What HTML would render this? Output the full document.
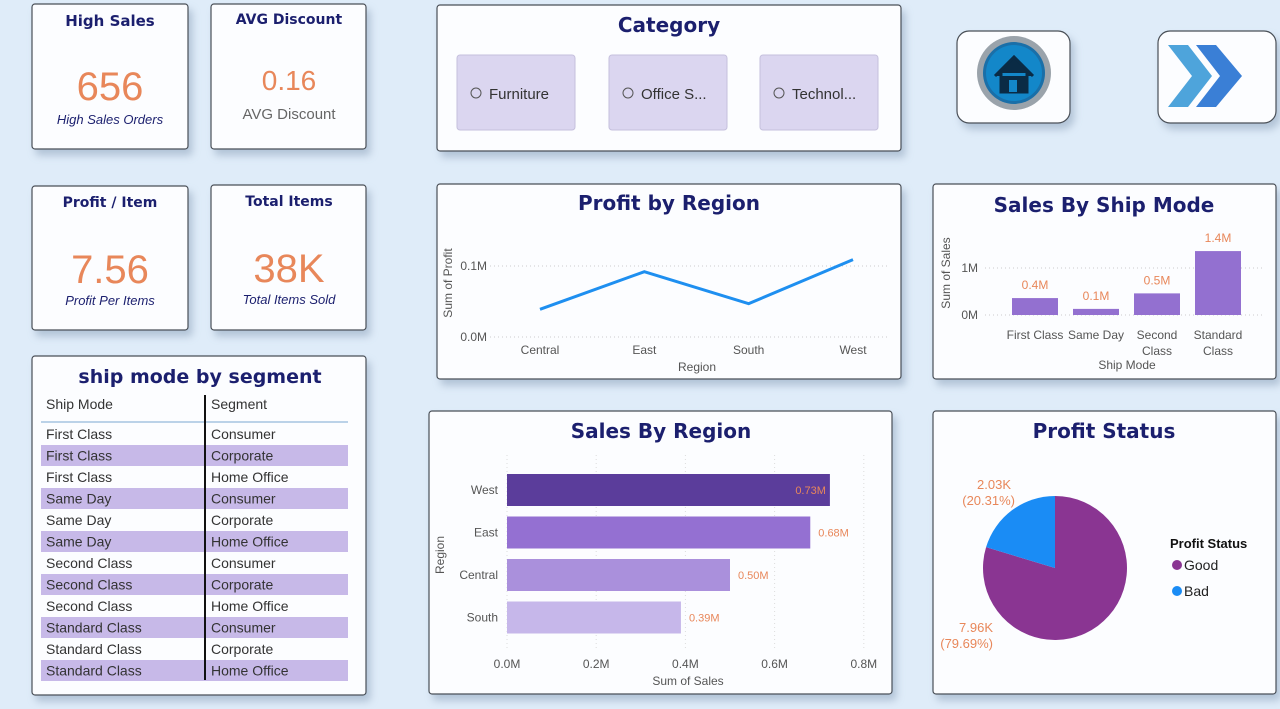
<!DOCTYPE html>
<html><head><meta charset="utf-8">
<style>
body{margin:0;width:1280px;height:709px;background:#dfecf9;overflow:hidden;font-family:"Liberation Sans",sans-serif}
svg{display:block}
.t{font-family:"DejaVu Sans","Liberation Sans",sans-serif;font-weight:bold;fill:#1b1f6e}
.lab{font-family:"Liberation Sans",sans-serif;fill:#555;font-size:12px}
</style></head><body>
<svg id="s" width="1280" height="709" xmlns="http://www.w3.org/2000/svg">
<defs><filter id="sh" x="-10%" y="-10%" width="130%" height="130%"><feDropShadow dx="4" dy="6" stdDeviation="4" flood-color="#7d93ad" flood-opacity="0.45"/></filter></defs>
<g id="cards"></g>
<text class="t" x="110" y="26" font-size="15" text-anchor="middle">High Sales</text>
<text x="110" y="100" font-size="40" fill="#e8875a" text-anchor="middle">656</text>
<text x="110" y="124" font-size="13" font-style="italic" fill="#1b1f6e" text-anchor="middle">High Sales Orders</text>
<text class="t" x="289" y="24" font-size="14" text-anchor="middle">AVG Discount</text>
<text x="289" y="90" font-size="28" fill="#e8875a" text-anchor="middle">0.16</text>
<text x="289" y="119" font-size="15" fill="#666" text-anchor="middle">AVG Discount</text>
<text class="t" x="110" y="207" font-size="14" text-anchor="middle">Profit / Item</text>
<text x="110" y="283" font-size="40" fill="#e8875a" text-anchor="middle">7.56</text>
<text x="110" y="305" font-size="13" font-style="italic" fill="#1b1f6e" text-anchor="middle">Profit Per Items</text>
<text class="t" x="289" y="206" font-size="14" text-anchor="middle">Total Items</text>
<text x="289" y="282" font-size="40" fill="#e8875a" text-anchor="middle">38K</text>
<text x="289" y="304" font-size="13" font-style="italic" fill="#1b1f6e" text-anchor="middle">Total Items Sold</text>
<text class="t" x="669" y="32" font-size="20" fill="#14477a" text-anchor="middle">Category</text>
<g><rect x="457" y="55" width="118" height="75" rx="3" fill="#dbd6f0" stroke="#c5c0dd"/><circle cx="476" cy="93" r="5" fill="none" stroke="#555"/><text x="489" y="99" font-size="15" fill="#333">Furniture</text></g>
<g><rect x="609" y="55" width="118" height="75" rx="3" fill="#dbd6f0" stroke="#c5c0dd"/><circle cx="628" cy="93" r="5" fill="none" stroke="#555"/><text x="641" y="99" font-size="15" fill="#333">Office S...</text></g>
<g><rect x="760" y="55" width="118" height="75" rx="3" fill="#dbd6f0" stroke="#c5c0dd"/><circle cx="779" cy="93" r="5" fill="none" stroke="#555"/><text x="792" y="99" font-size="15" fill="#333">Technol...</text></g>
<g>
<circle cx="1014" cy="73" r="37" fill="#9aa3ab"/><circle cx="1014" cy="73" r="31" fill="#1a6fa8"/><circle cx="1014" cy="73" r="28" fill="#1387c9"/>
<path d="M995 76 L1014 57 L1033 76 M1001 73 L1001 92 L1027 92 L1027 73" fill="#0a2b45" stroke="#0a2b45" stroke-width="3"/>
<rect x="1009" y="80" width="8" height="12" fill="#1387c9"/></g>
<g>
<path d="M1168 45 L1188 45 L1212 76 L1188 107 L1168 107 L1192 76 Z" fill="#4ea4db"/>
<path d="M1196 45 L1216 45 L1242 76 L1216 107 L1196 107 L1220 76 Z" fill="#3a7fd6"/></g>
<text class="t" x="669" y="210" font-size="20" fill="#14477a" text-anchor="middle">Profit by Region</text>
<text class="t" x="1104" y="212" font-size="20" text-anchor="middle">Sales By Ship Mode</text>
<text class="t" x="200" y="383" font-size="19" text-anchor="middle">ship mode by segment</text>
<text class="t" x="661" y="438" font-size="20" text-anchor="middle">Sales By Region</text>
<text class="t" x="1104" y="438" font-size="20" text-anchor="middle">Profit Status</text>
<g id="charts"></g>
</svg>
<script>
const NS='http://www.w3.org/2000/svg';
function mk(p,tag,a,txt){const e=document.createElementNS(NS,tag);for(const k in a)e.setAttribute(k,a[k]);if(txt!==undefined)e.textContent=txt;p.appendChild(e);return e;}
const cardsG=document.getElementById('cards'), C=document.getElementById('charts');
const cardNames=['high-sales-card','avg-discount-card','profit-item-card','total-items-card','category-slicer','home-button','next-button','profit-region-card','ship-mode-card','segment-table','sales-region-card','profit-status-card'];
const cardBoxes=[[32,4,156,145],[211,4,155,145],[32,186,156,144],[211,185,155,145],[437,5,464,146],[957,31,113,92],[1158,31,118,92],[437,184,464,195],[933,184,343,195],[32,356,334,339],[429,411,463,283],[933,411,343,283]];
cardBoxes.forEach((b,i)=>{const r=mk(cardsG,'rect',{x:b[0],y:b[1],width:b[2],height:b[3],rx:i==5||i==6?12:3,fill:'#fcfdff',stroke:'#4a4f57','stroke-width':1.2,filter:'url(#sh)'});

});

const regions=['Central','East','South','West'];
const profitVals=[0.039,0.092,0.047,0.109];
const pTicks=[0,0.1];
{const x0=540,dx=(853-540)/3,y=v=>337-v*710;
pTicks.forEach(t=>{mk(C,'line',{x1:490,x2:890,y1:y(t),y2:y(t),stroke:'#ccc','stroke-dasharray':'1 3'});mk(C,'text',{x:487,y:y(t)+4,class:'lab','text-anchor':'end'},t.toFixed(1)+'M');});
regions.forEach((r,i)=>mk(C,'text',{x:x0+i*dx,y:354,class:'lab','text-anchor':'middle'},r));
const pl=mk(C,'polyline',{points:profitVals.map((v,i)=>(x0+i*dx)+','+y(v)).join(' '),fill:'none',stroke:'#1e8ff0','stroke-width':3});


mk(C,'text',{x:697,y:371,class:'lab','font-size':10,'text-anchor':'middle'},'Region');
mk(C,'text',{x:452,y:283,class:'lab','font-size':10,'text-anchor':'middle',transform:'rotate(-90 452 283)'},'Sum of Profit');}

const modes=[['First Class'],['Same Day'],['Second','Class'],['Standard','Class']];
const modeVals=[0.36,0.13,0.46,1.36];
const modeLabels=['0.4M','0.1M','0.5M','1.4M'];
const mTicks=[0,1];
{const y=v=>315-v*47,x=i=>1035+i*61;
mTicks.forEach(t=>{mk(C,'line',{x1:985,x2:1262,y1:y(t),y2:y(t),stroke:'#ccc','stroke-dasharray':'1 3'});mk(C,'text',{x:978,y:y(t)+4,class:'lab','text-anchor':'end'},t+'M');});
modeVals.forEach((v,i)=>{const b=mk(C,'rect',{x:x(i)-23,y:y(v),width:46,height:v*47,fill:'#9370d0'});


mk(C,'text',{x:x(i),y:y(v)-9,'font-size':12,fill:'#e8875a','text-anchor':'middle'},modeLabels[i]);
modes[i].forEach((l,j)=>mk(C,'text',{x:x(i),y:339+j*16,class:'lab','text-anchor':'middle'},l));});
mk(C,'text',{x:1127,y:369,class:'lab','font-size':10,'text-anchor':'middle'},'Ship Mode');
mk(C,'text',{x:950,y:273,class:'lab','font-size':10,'text-anchor':'middle',transform:'rotate(-90 950 273)'},'Sum of Sales');}

const tblMode=['First Class','First Class','First Class','Same Day','Same Day','Same Day','Second Class','Second Class','Second Class','Standard Class','Standard Class','Standard Class'];
const tblSeg=['Consumer','Corporate','Home Office','Consumer','Corporate','Home Office','Consumer','Corporate','Home Office','Consumer','Corporate','Home Office'];
{mk(C,'text',{x:46,y:409,'font-size':14,fill:'#333'},'Ship Mode');mk(C,'text',{x:211,y:409,'font-size':14,fill:'#333'},'Segment');
mk(C,'line',{x1:41,x2:348,y1:422,y2:422,stroke:'#7aa7d1'});
tblMode.forEach((m,i)=>{const cy=434+i*21.5;
if(i%2==1)mk(C,'rect',{x:41,y:cy-10.5,width:307,height:21,fill:'#c7b9e8'});
const r=mk(C,'text',{x:46,y:cy+5,'font-size':14,fill:'#333'},m);


mk(C,'text',{x:211,y:cy+5,'font-size':14,fill:'#333'},tblSeg[i]);});
mk(C,'line',{x1:205,x2:205,y1:395,y2:680,stroke:'#111','stroke-width':2});}

const hRegions=['West','East','Central','South'];
const hVals=[0.724,0.68,0.50,0.39];
const hLabels=['0.73M','0.68M','0.50M','0.39M'];
const hColors=['#5b3d9b','#9470d2','#aa90dc','#c6b7ea'];
const hTicks=[0,0.2,0.4,0.6,0.8];
{const x=v=>507+v*446;
hTicks.forEach(t=>{mk(C,'line',{x1:x(t),x2:x(t),y1:455,y2:650,stroke:'#ddd','stroke-dasharray':'1 3'});mk(C,'text',{x:x(t),y:668,class:'lab','text-anchor':'middle'},t.toFixed(1)+'M');});
hVals.forEach((v,i)=>{const cy=490+i*42.5;const b=mk(C,'rect',{x:507,y:cy-16,width:x(v)-507,height:32,fill:hColors[i]});


mk(C,'text',{x:498,y:cy+4,class:'lab','text-anchor':'end'},hRegions[i]);
mk(C,'text',{x:x(v)+(i==0?-4:8),y:cy+4,'font-size':11,fill:'#e8875a','text-anchor':i==0?'end':'start'},hLabels[i]);});
mk(C,'text',{x:688,y:685,class:'lab','font-size':10,'text-anchor':'middle'},'Sum of Sales');
mk(C,'text',{x:444,y:555,class:'lab','font-size':10,'text-anchor':'middle',transform:'rotate(-90 444 555)'},'Region');}

const pieNames=['Good','Bad'];
const pieVals=[7.96,2.03];
const pieLabels=[['7.96K','(79.69%)'],['2.03K','(20.31%)']];
const pieColors=['#8a3592','#1a8cf5'];
{const cx=1055,cy=568,r=72,tot=pieVals.reduce((a,b)=>a+b,0);
let a=0;
pieVals.forEach((v,i)=>{const s=a,e=a+v/tot*2*Math.PI;a=e;
const p=t=>[cx+r*Math.sin(t),cy-r*Math.cos(t)];const [x1,y1]=p(s),[x2,y2]=p(e);
const sl=mk(C,'path',{d:`M${cx},${cy} L${x1},${y1} A${r},${r} 0 ${e-s>Math.PI?1:0} 1 ${x2},${y2} Z`,fill:pieColors[i]});

});
mk(C,'text',{x:1011,y:489,'font-size':13,fill:'#e8875a','text-anchor':'end'},pieLabels[1][0]);
mk(C,'text',{x:1015,y:505,'font-size':13,fill:'#e8875a','text-anchor':'end'},pieLabels[1][1]);
mk(C,'text',{x:993,y:632,'font-size':13,fill:'#e8875a','text-anchor':'end'},pieLabels[0][0]);
mk(C,'text',{x:993,y:648,'font-size':13,fill:'#e8875a','text-anchor':'end'},pieLabels[0][1]);
mk(C,'text',{x:1170,y:548,'font-size':13,'font-weight':'bold',fill:'#111'},'Profit Status');
pieNames.forEach((n,i)=>{const ly=565+i*26;const c=mk(C,'circle',{cx:1177,cy:ly,r:5,fill:pieColors[i]});


mk(C,'text',{x:1184,y:ly+5,'font-size':14,fill:'#222'},n);});}
</script>
</body></html>
